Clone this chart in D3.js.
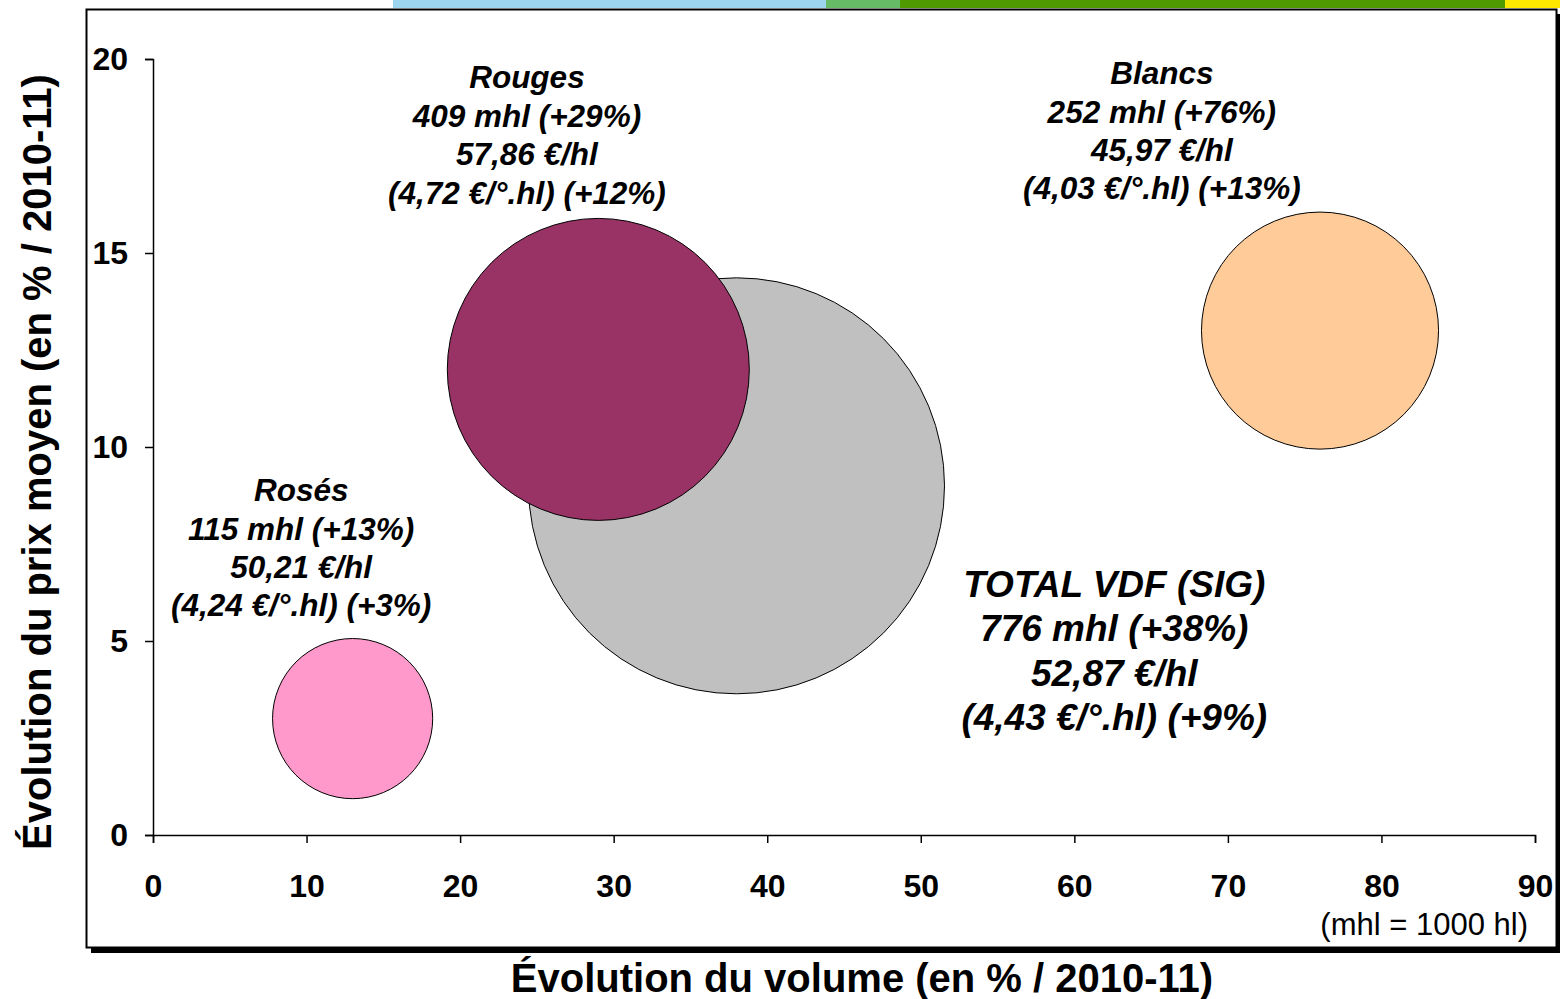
<!DOCTYPE html>
<html>
<head>
<meta charset="utf-8">
<script src="https://cdn.jsdelivr.net/npm/d3@7"></script>
<style>
  body { margin: 0; background: #fff; }
  text { font-family: "Liberation Sans", Arial, sans-serif; }
</style>
</head>
<body>
<svg id="chart" width="1560" height="999"></svg>
<script>
// data
var categories = ["TOTAL VDF (SIG)", "Rouges", "Blancs", "Rosés"];
var volumeChange = [38, 29, 76, 13];     // % / 2010-11
var priceChange = [9, 12, 13, 3];        // % / 2010-11
var volumes = [776, 409, 252, 115];      // mhl
var pricePerHl = ["52,87", "57,86", "45,97", "50,21"];
var pricePerDegHl = ["4,43", "4,72", "4,03", "4,24"];
var colors = ["#C0C0C0", "#993366", "#FFCC99", "#FF99CC"];

var xTicks = [0, 10, 20, 30, 40, 50, 60, 70, 80, 90];
var yTicks = [0, 5, 10, 15, 20];

var width = 1560, height = 999;
var svg = d3.select("#chart");

// top colour band
var band = [
  {x0: 393, x1: 826, c: "#9DD5EF"},
  {x0: 826, x1: 900, c: "#66BB66"},
  {x0: 900, x1: 1505, c: "#4E9A00"},
  {x0: 1505, x1: 1560, c: "#FFE800"}
];
svg.selectAll("rect.band")
  .data(band)
  .enter()
  .append("rect")
  .attr("class", "band")
  .attr("x", function(d) { return d.x0 })
  .attr("y", 0)
  .attr("width", function(d) { return d.x1 - d.x0 })
  .attr("height", 8)
  .attr("fill", function(d) { return d.c });

// frame with shadow
svg.append("rect")
  .attr("x", 91).attr("y", 14)
  .attr("width", 1470).attr("height", 939)
  .attr("fill", "#000");
svg.append("rect")
  .attr("x", 86.5).attr("y", 9.5)
  .attr("width", 1470).attr("height", 938)
  .attr("fill", "#fff")
  .attr("stroke", "#000")
  .attr("stroke-width", 2);

var x = d3.scaleLinear().domain([0, 90]).range([153, 1535]);
var y = d3.scaleLinear().domain([0, 20]).range([835, 59]);
var r = d3.scaleSqrt().domain([0, 776]).range([0, 208]);

// bubbles, biggest first
var idx = d3.range(categories.length).sort(function(a, b) { return volumes[b] - volumes[a] });
svg.selectAll("circle")
  .data(idx)
  .enter()
  .append("circle")
  .attr("cx", function(i) { return x(volumeChange[i]) })
  .attr("cy", function(i) { return y(priceChange[i]) })
  .attr("r", function(i) { return r(volumes[i]) })
  .attr("fill", function(i) { return colors[i] })
  .attr("stroke", "#000")
  .attr("stroke-width", 1);

// axes
var xAxis = svg.append("g")
  .attr("transform", "translate(0," + y(0) + ")")
  .call(d3.axisBottom(x).tickValues(xTicks).tickSize(8).tickPadding(31));
var yAxis = svg.append("g")
  .attr("transform", "translate(" + x(0) + ",0)")
  .call(d3.axisLeft(y).tickValues(yTicks).tickSize(8).tickPadding(17));

[xAxis, yAxis].forEach(function(a) {
  a.selectAll("path, line").attr("stroke", "#000").attr("stroke-width", 1.5);
  a.selectAll("text")
    .attr("fill", "#000")
    .style("font-family", "'Liberation Sans', Arial, sans-serif")
    .style("font-weight", "bold")
    .style("font-size", "32px");
});

// bubble labels (anchor in data units, lines go down from there)
var labelPos = [
  {x: 62.6, y: 6.14, size: 37, gap: 44.5},   // total
  {x: 24.35, y: 19.25, size: 31.5, gap: 38.5}, // rouges
  {x: 65.7, y: 19.35, size: 31.5, gap: 38.3},  // blancs
  {x: 9.65, y: 8.6, size: 31.5, gap: 38.3}    // roses
];

categories.forEach(function(name, i) {
  var p = labelPos[i];
  var lines = [
    name,
    volumes[i] + " mhl (+" + volumeChange[i] + "%)",
    pricePerHl[i] + " €/hl",
    "(" + pricePerDegHl[i] + " €/°.hl) (+" + priceChange[i] + "%)"
  ];
  svg.append("g")
    .selectAll("text")
    .data(lines)
    .enter()
    .append("text")
    .attr("x", x(p.x))
    .attr("y", function(d, k) { return y(p.y) + k * p.gap })
    .attr("text-anchor", "middle")
    .style("font-weight", "bold")
    .style("font-style", "italic")
    .style("font-size", p.size + "px")
    .attr("fill", "#000")
    .text(function(d) { return d });
});

// titles
svg.append("text")
  .attr("x", 862)
  .attr("y", 992)
  .attr("text-anchor", "middle")
  .style("font-weight", "bold")
  .style("font-size", "40px")
  .text("Évolution du volume (en % / 2010-11)");

svg.append("text")
  .attr("transform", "translate(51,462) rotate(-90)")
  .attr("text-anchor", "middle")
  .style("font-weight", "bold")
  .style("font-size", "40px")
  .text("Évolution du prix moyen (en % / 2010-11)");

svg.append("text")
  .attr("x", 1528)
  .attr("y", 935)
  .attr("text-anchor", "end")
  .style("font-size", "31px")
  .text("(mhl = 1000 hl)");
</script>
</body>
</html>
